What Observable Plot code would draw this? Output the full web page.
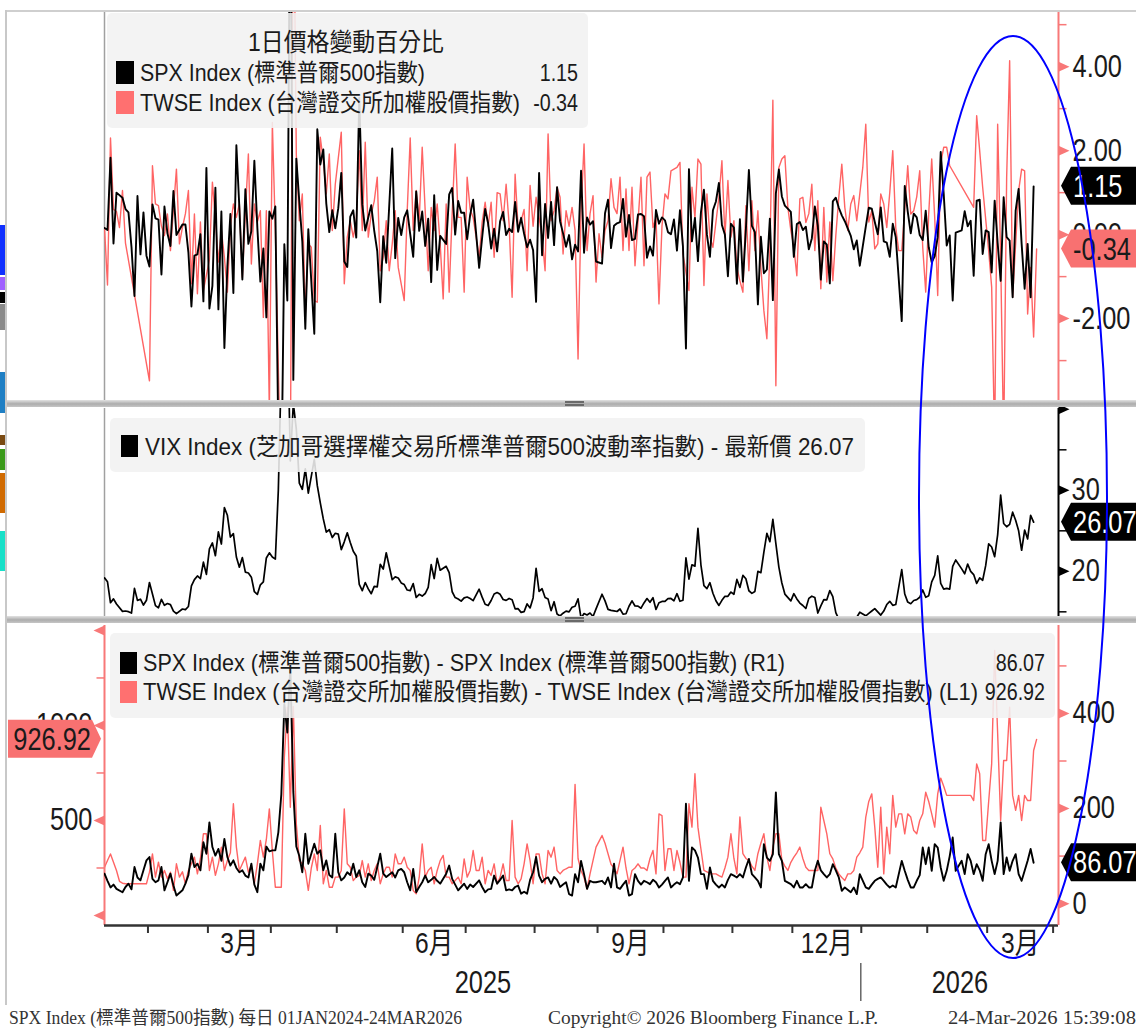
<!DOCTYPE html>
<html><head><meta charset="utf-8">
<script src="https://cdn.jsdelivr.net/npm/d3@7"></script>
<script src="https://cdn.jsdelivr.net/npm/@observablehq/plot@0.6"></script>
<style>
html,body{margin:0;padding:0;background:#fff;}
#root{position:relative;width:1136px;height:1028px;overflow:hidden;background:#fff;font-family:'Liberation Sans','Noto Sans CJK TC',sans-serif;color:#1a1a1a;}
#root svg{position:absolute;left:0;}
.legend{position:absolute;background:rgba(241,241,241,0.88);border-radius:5px;}
</style></head><body><div id="root"></div>
<script>
// ---------- DATA (one value per weekday, starting Mon 13 Jan 2025) ----------
const START_DATE = "2025-01-13";
const SPX_PCT = [
0.16,0.11,1.83,-0.21,1.00, null,0.88,0.61,0.53,-0.29, -1.46,0.92,-0.47,0.53,-0.50, -0.76,0.72,0.39,0.36,-0.95,
0.67,0.03,-0.27,1.04,-0.01, null,0.24,0.24,-0.43,-1.71, -0.50,-0.47,0.01,-1.59,1.59, -1.76,-1.22,1.12,-1.78,0.55,
-2.70,-0.76,0.49,-1.39,2.13, 0.64,-1.07,1.08,-0.22,0.08, 1.76,0.16,-1.12,-0.33,-1.97, 0.55,0.38,0.67,-4.84,-5.97,
-0.23,-1.57,9.52,-3.46,1.81, 0.79,-0.17,-2.24,0.13,null, -2.36,2.51,1.67,2.03,0.74, 0.06,0.58,0.15,0.63,1.47,
-0.64,-0.77,0.43,0.58,-0.07, 3.26,0.72,0.10,0.41,0.70, 0.09,-0.39,-1.61,-0.04,-0.67, null,2.05,-0.56,0.40,-0.01,
0.41,0.58,0.01,-0.53,1.03, 0.09,0.55,-0.27,0.38,-1.13, 0.94,-0.84,-0.03,null,-0.22, 0.96,1.11,0.00,0.80,0.52,
0.52,-0.11,0.47,0.83,null, -0.79,-0.07,0.61,0.27,-0.33, 0.14,-0.40,0.32,0.54,-0.01, 0.14,0.06,0.78,0.07,0.40,
0.02,-0.30,-0.12,-0.37,-1.60, 1.47,-0.49,0.73,-0.08,0.78, -0.25,1.13,0.32,0.03,-0.29, -0.01,-0.59,-0.24,-0.40,1.52,
-0.43,0.41,0.24,0.32,-0.64, null,-0.69,0.51,0.83,-0.32, 0.21,0.27,0.30,0.85,-0.05, 0.47,-0.13,-0.10,0.48,0.49,
0.44,-0.55,-0.28,-0.50,0.59, 0.26,0.41,0.34,0.06,0.01, 0.36,-0.38,0.58,-0.28,-2.71, 1.56,-0.16,0.40,-0.63,0.53,
1.07,0.00,-0.53,0.58,0.79, 1.23,0.23,0.00,-0.99,0.26, 0.17,-1.17,0.37,-1.12,0.13, 1.54,0.21,0.06,-1.66,-0.05,
-0.92,-0.83,0.38,-1.56,0.98, 1.55,0.91,0.69,null,0.54, -0.53,0.25,0.30,0.11,0.19, -0.35,-0.09,0.67,0.21,-1.07,
-0.16,-0.24,-1.16,0.79,0.88, 0.64,0.46,0.32,null,-0.03, -0.35,-0.14,-0.74,null,0.19, 0.64,0.62,0.30,0.01,0.65,
-0.16,-0.19,-0.53,0.26,-0.06, null,-2.06,1.16,0.55,0.03, 0.50,0.41,-0.01,-0.13,0.57, -0.30,-0.66,-0.51,-0.06,1.97,
0.97,-0.26,-0.02,-1.57,0.05, null,0.10,0.56,0.20,0.33, -0.98,0.81,0.83,-0.46,0.10, 0.06,-0.90,0.81,-0.20,-1.10,
0.89,-0.06,-0.14,-1.49,0.57, 1.09,-0.22,-1.29,-0.22,-1.49, 1.15,null];

const TWSE_PCT = [
0.17,-1.20,2.30,0.60,0.55, 0.17,1.05,-0.20,null,null, null,null,null,null,null, -3.48,1.64,0.73,0.69,0.20,
-0.02,0.49,-0.38,0.60,1.56, -0.22,0.17,0.50,1.05,-1.17, 0.49,-1.41,0.30,-1.33,null, -0.60,1.25,0.40,-0.65,0.10,
-0.54,-1.37,0.20,0.73,0.41, 0.73,-1.02,0.50,1.92,-0.70, 0.73,0.30,0.57,-1.97,0.57, -4.20,2.67,0.10,null,null,
-9.70,-4.02,-5.79,9.25,1.90, 0.33,0.97,-1.89,-0.22,-0.30, -1.57,-1.61,2.32,1.76,0.97, 1.92,0.10,1.20,null,2.44,
-1.17,-0.06,0.33,-0.06,0.33, 2.00,0.10,2.20,-0.06,0.49, 0.80,1.37,-0.86,-0.54,0.33, -0.86,-0.22,0.57,-0.78,null,
-1.57,0.57,2.30,0.10,1.05, 0.33,2.08,0.57,-0.86,0.65, 0.10,0.73,-0.22,-1.53,0.73, -1.37,0.50,2.16,0.41,0.41,
-1.37,1.37,0.60,0.41,-0.06, -0.54,0.30,0.77,0.20,0.77, -0.54,1.00,0.97,0.33,1.20, 0.25,-1.49,1.44,0.17,0.33,
0.60,-0.86,1.17,0.20,0.89, 0.40,-0.06,-0.86,2.40,0.33, 0.57,1.13,0.89,-0.46,0.57, 0.20,0.65,0.10,-2.96,0.57,
2.16,-0.38,0.50,0.93,-1.13, 0.02,-0.54,0.10,0.33,1.33, 0.65,0.50,1.37,-0.38,1.09, -0.38,1.13,-0.74,0.30,1.37,
-0.74,1.37,1.49,0.17,0.40, -1.65,0.20,0.97,0.85,1.52, null,1.60,1.72,-0.46,null, -1.33,1.13,0.40,1.80,1.68,
-1.21,0.97,-0.06,-0.30,null, 0.89,1.76,-0.06,1.29,-0.06, 0.33,-0.78,-1.10,-1.37,0.69, -0.86,0.81,-0.38,0.57,-0.78,
-1.81,-2.48,-0.38,3.20,-3.60, 1.60,1.80,1.88,0.65,0.10, -0.30,-0.98,0.85,0.89,0.29, 0.50,1.20,-0.38,0.81,-1.29,
0.65,-1.13,0.30,-1.10,-0.02, 0.89,1.68,0.65,0.10,0.73, 0.93,0.33,0.97,1.60,2.63, 0.30,0.57,-0.34,-0.22,0.97,
0.73,0.17,1.00,2.00,0.17, -0.38,-0.38,0.60,1.64,0.49, 0.57,0.90,1.52,-0.30,-1.37, 0.50,1.80,0.41,-1.45,1.70,
2.08,2.08,1.64,null,null, null,null,null,null,null, 0.65,2.83,2.00,1.13,null, -0.38,-1.25,-5.00,2.63,-0.54,
-5.00,1.36,4.14,-1.49,-0.22, 1.05,1.56,1.52,-1.89,-0.78, -2.44,-0.34];

const VIX = [
19.19,18.71,16.12,16.60,15.97, null,15.06,15.10,15.02,14.85, 17.90,16.41,16.56,15.84,16.43, 18.62,17.21,15.77,15.50,16.54,
15.81,16.02,15.89,15.10,14.77, null,15.35,15.27,15.66,18.21, 18.98,19.43,19.10,21.13,19.63, 22.78,23.51,21.93,24.87,23.37,
27.86,26.92,24.23,24.66,21.77, 20.51,21.70,19.90,19.80,19.28, 17.48,17.15,18.33,18.69,21.65, 22.28,21.77,21.51,30.02,45.31,
46.98,52.33,33.62,40.72,37.56, 30.89,30.12,32.64,29.65,null, 33.82,30.57,28.45,26.47,24.84, 25.15,24.17,24.70,24.60,22.68,
23.64,24.76,23.55,22.48,21.90, 18.39,17.61,18.62,17.83,17.24, 18.14,18.09,20.87,20.28,22.29, null,18.96,19.31,19.18,18.57,
18.36,17.69,17.61,18.48,16.77, 17.16,16.95,17.26,18.02,20.82, 19.11,21.60,20.14,null,20.62, 19.83,17.48,16.76,16.59,16.32,
16.73,16.83,16.64,16.38,null, 17.79,16.81,15.94,15.78,16.40, 17.20,17.38,17.16,16.52,16.41, 16.65,16.50,15.37,15.39,14.93,
15.03,15.98,15.48,16.72,20.38, 17.52,17.85,16.77,16.57,15.15, 16.25,14.73,14.49,14.83,15.09, 14.99,15.57,15.69,16.60,14.22,
14.79,14.62,14.85,14.43,15.36, null,17.17,16.35,15.30,15.18, 15.11,15.04,15.35,14.71,14.76, 15.69,16.36,15.72,15.70,15.45,
16.10,16.64,16.18,16.74,15.29, 16.12,16.28,16.29,16.63,16.65, 16.37,17.24,16.30,16.43,21.66, 19.03,20.81,20.64,25.31,20.78,
18.23,17.87,18.60,17.30,16.37, 15.79,16.42,16.92,16.91,17.44, 17.17,19.00,18.01,19.50,19.08, 17.60,17.28,17.51,20.00,19.83,
22.38,24.69,23.66,26.42,23.43, 20.52,18.56,17.19,null,16.35, 17.24,16.59,16.08,15.78,15.41, 16.66,16.93,16.77,14.85,15.74,
16.50,16.48,17.62,16.87,14.91, 14.08,14.00,13.47,null,13.60, 14.20,14.33,14.95,null,14.51, 14.80,15.10,15.40,15.00,14.60,
15.10,15.90,16.30,15.80,15.90, null,20.20,17.20,16.20,16.00, 16.40,16.50,16.80,17.70,16.80, 17.00,18.70,19.50,21.90,18.50,
17.80,17.90,17.80,20.60,21.40, null,20.30,19.70,20.90,20.00, 19.60,18.50,19.20,18.90,20.70, 23.40,23.00,21.80,24.50,29.40,
25.90,25.50,25.80,27.30,26.30, 25.00,22.60,25.10,24.00,26.90, 26.07,null];

const SPX_RANGE = [
63,48,34,40,31, null,24,35,42,30, 77,55,49,70,91, 98,52,45,49,77,
28,45,63,38,17, null,28,42,60,105, 77,84,70,129,105, 171,119,101,115,90,
136,98,80,91,75, 66,70,59,55,84, 40,24,84,70,120, 110,112,112,150,230,
420,360,500,235,120, 100,66,147,84,null, 126,105,112,70,91, 60,55,147,66,49,
55,66,60,84,56, 70,45,35,63,59, 50,77,105,63,56, null,66,55,70,73,
66,45,28,73,24, 35,45,59,45,50, 56,48,42,null,63, 80,52,40,28,35,
42,31,40,35,null, 49,35,24,30,31, 59,42,50,59,28, 30,28,35,38,21,
25,21,50,66,98, 59,45,52,55,42, 56,50,35,40,45, 20,17,62,45,90,
62,31,48,45,45, null,48,41,55,34, 84,34,31,40,48, 17,20,62,48,40,
48,45,41,50,45, 34,40,48,55,34, 40,45,41,55,210, 48,118,112,97,62,
62,31,76,48,40, 34,40,34,50,62, 59,55,62,55,76, 94,62,55,48,34,
125,97,90,104,234, 104,90,48,null,41, 34,48,34,34,41, 34,34,69,90,70,
62,55,62,83,70, 55,27,34,null,24, 34,20,62,null,34, 31,40,48,52,55,
48,40,34,38,34, null,90,69,50,34, 34,48,60,118,83, 118,69,125,118,76,
48,69,100,139,69, null,90,62,104,90, 62,83,70,48,104, 125,90,62,90,171,
62,97,69,90,104, 62,48,69,90,115, 86.07,null];

const TWSE_RANGE = [
254,289,324,280,237, 180,170,167,167,167, 167,167,167,167,167, 228,324,202,281,202,
237,193,228,132,272, 202,230,167,237,272, 307,219,300,430,430, 237,307,211,272,360,
237,289,330,588,360, 237,272,307,228,263, 167,272,395,307,400, 561,342,149,149,149,
833,1096,570,1100,482, 289,272,237,132,250, 324,237,474,167,237, 149,149,202,202,237,
561,272,254,184,202, 210,289,202,272,184, 237,272,167,219,254, 254,202,324,272,272,
307,254,237,132,114, 200,377,202,237,254, 167,237,289,316,202, 202,167,184,202,167,
298,202,237,342,237, 237,307,167,237,211, 272,167,202,272,184, 184,500,202,167,193,
272,377,289,167,324, 324,219,167,342,307, 360,237,219,237,246, 254,254,690,300,237,
200,140,219,290,360, 390,421,380,325,270, 250,219,290,360,250, 167,237,250,272,250,
250,237,300,342,219, 535,526,237,351,351, 237,342,280,202,202, 588,465,746,465,350,
237,230,219,219,219, 210,202,250,307,430, 300,219,518,325,300, 290,260,237,325,380,
430,307,237,360,430, 430,290,260,237,280, 307,330,360,300,254, 237,237,237,237,570,
500,430,325,298,250, 219,200,184,219,219, 237,307,330,360,518, 600,640,465,254,570,
219,465,325,632,465, 535,535,430,535,518, 447,430,500,535,649, 600,535,465,640,723,
680,632,632,632,632, 632,632,632,632,632, 605,798,746,395,395, 600,798,1395,956,500,
816,816,1096,632,553, 632,500,632,605,605, 868,926.92];

// axes / labels
const Y1_TICKS = [-2, 0, 2, 4], Y1_MINOR = [-3, -1, 1, 3, 5];
const VIX_TICKS = [20, 30, 40], VIX_LABELS = [20, 30], VIX_MINOR = [15, 25, 35];
const L_TICKS = [0, 500, 1000, 1500], L_LABELS = [500, 1000], L_MINOR = [250, 750, 1250];
const R_TICKS = [0, 200, 400], R_MINOR = [100, 300, 500];
const MONTH_NAMES = {3: "3月", 6: "6月", 9: "9月", 12: "12月"};
const YEARS = ["2025", "2026"];
const LAST = {spxPct: "1.15", twsePct: "-0.34", vix: "26.07", spxRange: "86.07", twseRange: "926.92"};
const LEG1_TITLE = "1日價格變動百分比";
const LEG1 = ["SPX Index (標準普爾500指數)", "TWSE Index (台灣證交所加權股價指數)"];
const LEG2 = "VIX Index (芝加哥選擇權交易所標準普爾500波動率指數) - 最新價 26.07";
const LEG3 = ["SPX Index (標準普爾500指數) - SPX Index (標準普爾500指數) (R1)",
              "TWSE Index (台灣證交所加權股價指數) - TWSE Index (台灣證交所加權股價指數) (L1)"];
const FOOT = ["SPX Index (標準普爾500指數) 每日 01JAN2024-24MAR2026", "Copyright© 2026 Bloomberg Finance L.P.", "24-Mar-2026 15:39:08"];

// ---------- LAYOUT ----------
const W = 1136, ML = 104, MR = 78, XMAX = 318.3, NARROW = 0.82;
const FONT = "'Liberation Sans','Noto Sans CJK TC',sans-serif";
const PINK = "#ff6464", PINK_AX = "#f87878", PINK_TAG = "#f87171";
const root = document.getElementById("root");

const base = Date.UTC(+START_DATE.slice(0,4), +START_DATE.slice(5,7)-1, +START_DATE.slice(8,10));
const dayOf = i => new Date(base + (Math.floor(i / 5) * 7 + i % 5) * 864e5);
const BOUNDS = [];
for (let i = 1; i < 322; i++) {
  const a = dayOf(i - 1), b = dayOf(i);
  if (a.getUTCMonth() !== b.getUTCMonth() && i - 0.5 < XMAX) BOUNDS.push({pos: i - 0.5, m: b.getUTCMonth() + 1});
}
const MONTH_LBL = [];
for (let k = 0; k < BOUNDS.length - 1; k++) if (MONTH_NAMES[BOUNDS[k].m]) MONTH_LBL.push({pos: (BOUNDS[k].pos + BOUNDS[k+1].pos) / 2, label: MONTH_NAMES[BOUNDS[k].m]});
const yearB = BOUNDS.find(b => b.m === 1).pos;
const YEAR_LBL = [{pos: yearB / 2, label: YEARS[0]}, {pos: (yearB + XMAX) / 2, label: YEARS[1]}];

const series = arr => arr.map((v, i) => ({i, v})).filter(d => d.v != null);

const TRI_R = {draw(c){ c.moveTo(0,-5); c.lineTo(11,0); c.lineTo(0,5); c.closePath(); }};
const TRI_L = {draw(c){ c.moveTo(0,-5); c.lineTo(-11,0); c.lineTo(0,5); c.closePath(); }};
const TICK_R = {draw(c){ c.moveTo(0,0); c.lineTo(8,0); }};
const TICK_L = {draw(c){ c.moveTo(0,0); c.lineTo(-8,0); }};

// condense the SVG texts of a Plot chart horizontally (narrow Bloomberg font)
function narrow(svg, k) {
  const num = v => v != null && /^-?[\d.]+$/.test(v);
  d3.select(svg).selectAll("text").each(function () {
    const t = d3.select(this);
    const x = t.attr("x"), y = t.attr("y");
    let pre = "";
    if (num(x) || num(y)) {
      pre = `translate(${num(x) ? x : 0},${num(y) ? y : 0}) `;
      if (num(x)) t.attr("x", null);
      if (num(y)) t.attr("y", null);
    }
    t.attr("transform", pre + (t.attr("transform") || "") + ` scale(${k},1)`);
  });
}
function mount(svg, top) { narrow(svg, NARROW); svg.style.top = top + "px"; root.appendChild(svg); return svg; }
function common(height, ydomain, marks, mb = 0) {
  return Plot.plot({
    width: W, height, marginLeft: ML, marginRight: MR, marginTop: 0, marginBottom: mb,
    x: {domain: [0, XMAX], axis: null}, y: {domain: ydomain, axis: null},
    style: {fontFamily: FONT, background: "transparent", overflow: "visible", color: "#1a1a1a"},
    marks
  });
}
function tag(svg, chart, value, label, side, bg, fg) {
  const y = chart.scale("y").apply(value);
  const s = d3.select(svg), h = 19;
  const pts = side === "right"
    ? [[1061, y], [1071, y - h], [1140, y - h], [1140, y + h], [1071, y + h]]
    : [[101, y], [92, y - h], [8, y - h], [8, y + h], [92, y + h]];
  s.append("polygon").attr("points", pts.map(p => p.join(",")).join(" ")).attr("fill", bg);
  s.append("text").attr("transform", `translate(${side === "right" ? 1073 : 91},${y}) scale(${NARROW},1)`).attr("dy", "0.36em")
    .attr("text-anchor", side === "right" ? "start" : "end")
    .attr("font-size", 31).attr("fill", fg).attr("font-family", FONT).text(label);
}

// Panel 1: daily % change
const YD1 = [-3.95, 5.29];
const p1 = common(388, YD1, [
  Plot.ruleX([0], {stroke: "#a0a0a0", strokeWidth: 1.5}),
  Plot.line(series(TWSE_PCT), {x: "i", y: "v", stroke: PINK, strokeWidth: 1.4, clip: true}),
  Plot.line(series(SPX_PCT), {x: "i", y: "v", stroke: "#000", strokeWidth: 1.9, clip: true}),
  Plot.ruleX([XMAX], {stroke: PINK_AX, strokeWidth: 2}),
  Plot.dot(Y1_MINOR, {x: XMAX, y: d => d, symbol: TICK_R, stroke: PINK_AX, strokeWidth: 1.5}),
  Plot.dot(Y1_TICKS, {x: XMAX, y: d => d, symbol: TRI_R, fill: PINK_AX, stroke: "none"}),
  Plot.text(Y1_TICKS, {x: XMAX, y: d => d, text: d => d.toFixed(2), dx: 14, textAnchor: "start", fontSize: 31, fill: "#1a1a1a"})
]);
mount(p1, 12);
tag(p1, p1, +LAST.spxPct, LAST.spxPct, "right", "#000", "#fff");
tag(p1, p1, +LAST.twsePct, LAST.twsePct, "right", PINK_TAG, "#1a1a1a");

// Panel 2: VIX
const YD2 = [14.3, 40.1];
const p2 = common(209, YD2, [
  Plot.ruleX([0], {stroke: "#a0a0a0", strokeWidth: 1.5}),
  Plot.line(series(VIX), {x: "i", y: "v", stroke: "#000", strokeWidth: 1.7, clip: true}),
  Plot.ruleX([XMAX], {stroke: "#000", strokeWidth: 2}),
  Plot.dot(VIX_MINOR, {x: XMAX, y: d => d, symbol: TICK_R, stroke: "#000", strokeWidth: 1.5}),
  Plot.dot(VIX_TICKS, {x: XMAX, y: d => d, symbol: TRI_R, fill: "#000", stroke: "none"}),
  Plot.text(VIX_LABELS, {x: XMAX, y: d => d, text: d => String(d), dx: 13, textAnchor: "start", fontSize: 31, fill: "#1a1a1a"})
]);
mount(p2, 408);
tag(p2, p2, +LAST.vix, LAST.vix, "right", "#000", "#fff");

// Panel 3: daily ranges, TWSE on left axis, SPX on right axis
const YL = [-52.6, 1526], YR = [-46, 585];
const p3a = common(380, YL, [
  Plot.line(series(TWSE_RANGE), {x: "i", y: "v", stroke: PINK, strokeWidth: 1.4, clip: true}),
  Plot.ruleX([0], {stroke: PINK_AX, strokeWidth: 2}),
  Plot.dot(L_MINOR, {x: 0, y: d => d, symbol: TICK_L, stroke: PINK_AX, strokeWidth: 1.5}),
  Plot.dot(L_TICKS, {x: 0, y: d => d, symbol: TRI_L, fill: PINK_AX, stroke: "none"}),
  Plot.text(L_LABELS, {x: 0, y: d => d, text: d => String(d), dx: -12, textAnchor: "end", fontSize: 31, fill: "#1a1a1a"}),
  Plot.ruleY([YL[0]], {stroke: "#333", strokeWidth: 2.5}),
  Plot.axisX(BOUNDS.map(b => b.pos), {anchor: "bottom", tickSize: 8, tickFormat: () => "", strokeWidth: 2, stroke: "#333"}),
  Plot.text(MONTH_LBL, {x: "pos", text: "label", frameAnchor: "bottom", dy: 27, fontSize: 30, fill: "#1a1a1a"}),
  Plot.text(YEAR_LBL, {x: "pos", text: "label", frameAnchor: "bottom", dy: 67, fontSize: 31, fill: "#1a1a1a"})
], 80);
mount(p3a, 625);
{
  const xs = p3a.scale("x").apply(yearB);
  d3.select(p3a).append("line").attr("x1", xs).attr("x2", xs).attr("y1", 338).attr("y2", 376).attr("stroke", "#666").attr("stroke-width", 1.5);
}
tag(p3a, p3a, +LAST.twseRange, LAST.twseRange, "left", PINK_TAG, "#1a1a1a");

const p3b = common(380, YR, [
  Plot.line(series(SPX_RANGE), {x: "i", y: "v", stroke: "#000", strokeWidth: 1.9, clip: true}),
  Plot.ruleX([XMAX], {stroke: PINK_AX, strokeWidth: 2}),
  Plot.dot(R_MINOR, {x: XMAX, y: d => d, symbol: TICK_R, stroke: PINK_AX, strokeWidth: 1.5}),
  Plot.dot(R_TICKS, {x: XMAX, y: d => d, symbol: TRI_R, fill: PINK_AX, stroke: "none"}),
  Plot.text(R_TICKS, {x: XMAX, y: d => d, text: d => String(d), dx: 14, textAnchor: "start", fontSize: 31, fill: "#1a1a1a"})
], 80);
mount(p3b, 625);
tag(p3b, p3b, +LAST.spxRange, LAST.spxRange, "right", "#000", "#fff");

// ---------- frame decorations ----------
function div(css) { const d = document.createElement("div"); d.style.cssText = "position:absolute;" + css; root.appendChild(d); return d; }
div("left:6px;top:10px;width:1130px;height:2px;background:#cfcfcf;");
div("left:5px;top:10px;width:2px;height:995px;background:#c8c8c8;");
for (const y of [400, 616]) {
  div(`left:7px;top:${y}px;width:1129px;height:7px;background:linear-gradient(#e2e2e2,#acacac 55%,#c6c6c6);`);
  div(`left:565px;top:${y+1}px;width:19px;height:1.5px;background:#6a6a6a;`);
  div(`left:565px;top:${y+4}px;width:19px;height:1.5px;background:#6a6a6a;`);
}
// clipped tags of neighbouring charts at the far left edge
[["#1030ff",225,50],["#a060ff",277,13],["#000",292,11],["#8a8a8a",304,26],["#1f7fc4",372,41],
 ["#7a4a12",435,10],["#3a9a1a",449,21],["#d06a00",473,40],["#18e0c8",531,40]].forEach(([c,t,h]) =>
  div(`left:0;top:${t}px;width:5px;height:${h}px;background:${c};`));

// ---------- legends ----------
// text placed at x (anchor start/middle/end) around a vertical centre; width fitted to the reference's extent
function txt(str, x, yc, size, anchor = "start", fitW = null, color = "#1a1a1a") {
  const s = div(`left:${x}px;top:${yc}px;font-size:${size}px;line-height:1;white-space:nowrap;color:${color};`);
  s.textContent = str;
  const w = s.getBoundingClientRect().width;
  const k = fitW ? fitW / w : NARROW;
  const origin = anchor === "end" ? "100%" : anchor === "middle" ? "50%" : "0%";
  const tx = anchor === "end" ? "-100%" : anchor === "middle" ? "-50%" : "0";
  s.style.transformOrigin = `${origin} 50%`;
  s.style.transform = `translate(${tx},-52%) scaleX(${k})`;
  return s;
}
const lg = (l, t, w, h) => { const d = div(`left:${l}px;top:${t}px;width:${w}px;height:${h}px;`); d.className = "legend"; return d; };
lg(107, 13, 481, 115);
txt(LEG1_TITLE, 346, 43, 25, "middle", 196);
div("left:116px;top:61px;width:18px;height:23px;background:#000;");
div("left:116px;top:91px;width:18px;height:23px;background:#ff7070;");
txt(LEG1[0], 140, 73, 24, "start", 285); txt(LAST.spxPct, 578, 73, 24, "end");
txt(LEG1[1], 140, 103, 24, "start", 380); txt(LAST.twsePct, 578, 103, 24, "end");

lg(110, 418, 755, 54);
div("left:121px;top:435px;width:17px;height:22px;background:#000;");
txt(LEG2, 145, 447, 24, "start", 709);

lg(110, 633, 945, 85);
div("left:120px;top:652px;width:17px;height:22px;background:#000;");
div("left:120px;top:681px;width:17px;height:22px;background:#ff7070;");
txt(LEG3[0], 143, 663, 24, "start", 642); txt(LAST.spxRange, 1045, 663, 24, "end");
txt(LEG3[1], 143, 692, 24, "start", 835); txt(LAST.twseRange, 1045, 692, 24, "end");

// ---------- footer ----------
{
  const f = d3.select(root).append("svg").attr("width", W).attr("height", 24).style("top", "1005px");
  [[9, 453, FOOT[0]], [548, 330, FOOT[1]], [948, 188, FOOT[2]]].forEach(([x, w, t]) =>
    f.append("text").attr("x", x).attr("y", 19).attr("font-size", 18).attr("fill", "#333")
      .attr("font-family", "'Liberation Serif','Noto Sans CJK TC',serif")
      .attr("textLength", w).attr("lengthAdjust", "spacingAndGlyphs").text(t));
}

// ---------- annotation ellipse ----------
{
  const o = d3.select(root).append("svg").attr("width", W).attr("height", 1028).style("top", "0px").style("pointer-events", "none");
  o.append("ellipse").attr("cx", 1013).attr("cy", 497).attr("rx", 94).attr("ry", 461)
    .attr("fill", "none").attr("stroke", "#0000ff").attr("stroke-width", 2);
}

const lens = [SPX_PCT, TWSE_PCT, VIX, SPX_RANGE, TWSE_RANGE].map(a => a.length);
if (lens.some(l => l !== 312)) txt("LEN " + lens.join(","), 300, 300, 30, "start", null, "red");
</script></body></html>
